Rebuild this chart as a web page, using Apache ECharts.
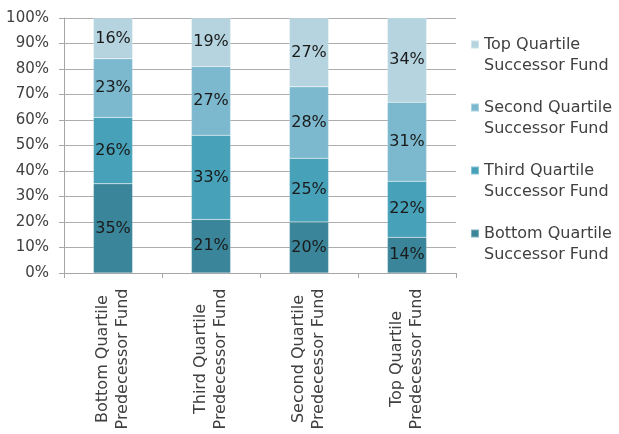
<!DOCTYPE html>
<html>
<head>
<meta charset="utf-8">
<script src="https://cdn.jsdelivr.net/npm/echarts@6/dist/echarts.min.js"></script>
<style>
  html, body { margin: 0; padding: 0; background: #ffffff; }
  #chart { width: 619px; height: 434px; }
</style>
</head>
<body>
<div id="chart"></div>
<script>
// Predecessor fund quartile (x axis) vs. successor fund quartile (stacked shares)
const categories = [
  'Bottom Quartile\nPredecessor Fund',
  'Third Quartile\nPredecessor Fund',
  'Second Quartile\nPredecessor Fund',
  'Top Quartile\nPredecessor Fund'
];
const bottomSuccessor = [35, 21, 20, 14];
const thirdSuccessor  = [26, 33, 25, 22];
const secondSuccessor = [23, 27, 28, 31];
const topSuccessor    = [16, 19, 27, 34];
const yTicks = [0, 10, 20, 30, 40, 50, 60, 70, 80, 90, 100];

const FONT = 'DejaVu Sans';
const seriesDefs = [
  { name: 'Bottom Quartile Successor Fund', data: bottomSuccessor, color: '#3a8599' },
  { name: 'Third Quartile Successor Fund',  data: thirdSuccessor,  color: '#46a1b9' },
  { name: 'Second Quartile Successor Fund', data: secondSuccessor, color: '#7cb9cf' },
  { name: 'Top Quartile Successor Fund',    data: topSuccessor,    color: '#b5d4df' }
];

const chart = echarts.init(document.getElementById('chart'), null, { renderer: 'canvas' });

chart.setOption({
  animation: false,
  backgroundColor: '#ffffff',
  grid: { left: 64, right: 163, top: 18, bottom: 161, containLabel: false },
  legend: {
    orient: 'vertical',
    left: 470,
    top: 13,
    padding: 0,
    itemWidth: 8,
    itemHeight: 8,
    itemGap: 0,
    icon: 'rect',
    data: seriesDefs.map(s => s.name).reverse(),
    // leading blank line keeps the first text line level with the swatch
    formatter: name => '\n' + name.replace(' Successor', '\nSuccessor'),
    textStyle: {
      fontFamily: FONT,
      fontSize: 16,
      color: '#404040',
      lineHeight: 21
    }
  },
  xAxis: {
    type: 'category',
    data: categories,
    axisLine: { show: true, lineStyle: { color: '#a6a6a6', width: 1 } },
    axisTick: { show: true, length: 5, alignWithLabel: false, lineStyle: { color: '#a6a6a6' } },
    axisLabel: {
      rotate: 90,
      align: 'center',
      verticalAlign: 'middle',
      margin: 86,
      fontFamily: FONT,
      fontSize: 16,
      lineHeight: 20,
      color: '#404040'
    }
  },
  yAxis: {
    type: 'value',
    min: 0,
    max: 100,
    interval: 10,
    axisLine: { show: true, lineStyle: { color: '#a6a6a6', width: 1 } },
    axisTick: { show: true, length: 5, lineStyle: { color: '#a6a6a6' } },
    splitLine: { show: true, lineStyle: { color: '#adadad', width: 1 } },
    axisLabel: {
      margin: 15,
      fontFamily: FONT,
      fontSize: 15,
      color: '#404040',
      formatter: v => (yTicks.includes(v) ? v + '%' : '')
    }
  },
  series: seriesDefs.map(s => ({
    name: s.name,
    type: 'bar',
    stack: 'total',
    barWidth: '40%',
    data: s.data,
    itemStyle: { color: s.color, borderColor: 'rgba(255,255,255,0.35)', borderWidth: 0.5 },
    label: {
      show: true,
      position: 'inside',
      formatter: p => p.value + '%',
      fontFamily: FONT,
      fontSize: 16,
      color: '#1a1a1a'
    }
  }))
});
</script>
</body>
</html>
